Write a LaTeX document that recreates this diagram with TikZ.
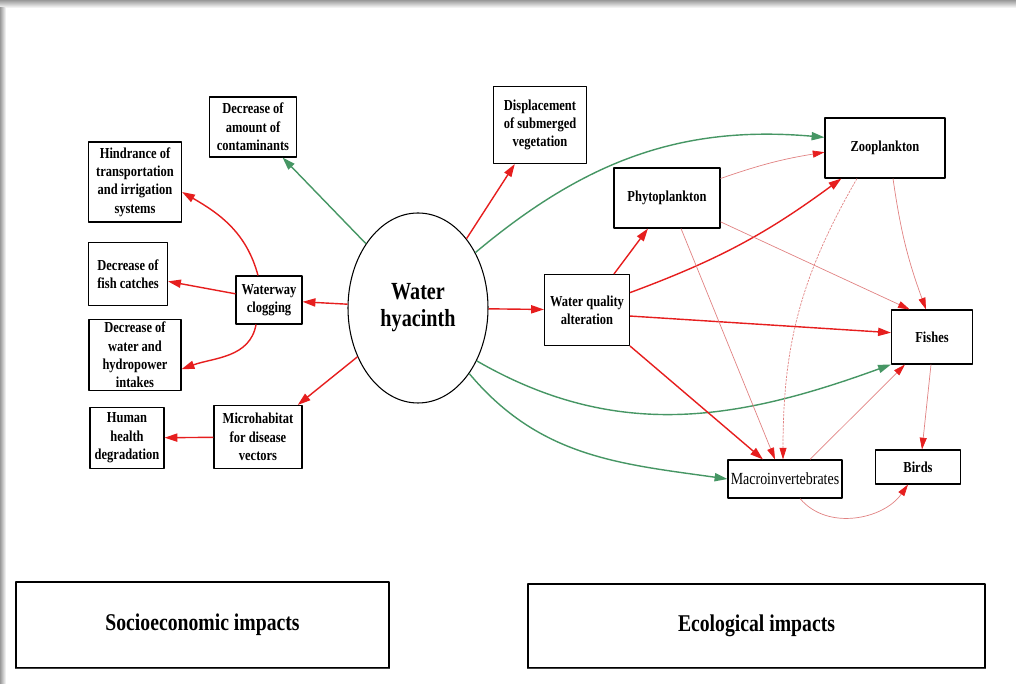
\documentclass[tikz,border=0pt]{standalone}
\usepackage{fontspec}
\setmainfont{Liberation Serif}[FakeStretch=0.82]
\usetikzlibrary{arrows.meta,shapes.geometric}
\definecolor{grn}{RGB}{70,150,100}
\definecolor{rd}{RGB}{230,30,30}
\definecolor{lrd}{RGB}{225,130,130}
\begin{document}
\begin{tikzpicture}[x=0.03cm,y=0.03cm, line join=round,
  font=\bfseries\fontsize{13}{15.7}\selectfont,
  box/.style={draw, line width=0.9pt, align=center, inner sep=2pt},
  sz/.style 2 args={minimum width=#1*0.03cm, minimum height=#2*0.03cm},
  big/.style={box, font=\bfseries\fontsize{20.5}{24}\selectfont},
  grnarr/.style={-{Triangle[length=11pt,width=7pt]}, grn, line width=1.2pt},
  rdarr/.style={-{Triangle[length=11pt,width=7pt]}, rd, line width=1.2pt},
  thin/.style={-{Triangle[length=10pt,width=6pt,color=rd]}, lrd, line width=0.6pt}]
\useasboundingbox (0,0) rectangle (1016,684);
\shade[top color=black!40, bottom color=white] (0,676) rectangle (1016,684);
\shade[left color=black!40, right color=white] (0,0) rectangle (6,676);

\node[box, sz={87}{60}] (contam) at (253,557) {Decrease of\\amount of\\contaminants};
\node[box, sz={93}{80}] (hind) at (135,502) {Hindrance of\\transportation\\and irrigation\\systems};
\node[box, sz={79}{63}] (fishc) at (128,410) {Decrease of\\fish catches};
\node[box, sz={92}{71}] (waterin) at (135,329) {Decrease of\\water and\\hydropower\\intakes};
\node[box, sz={74}{61}] (health) at (127,246) {Human\\health\\degradation};
\node[box, sz={66}{48}] (clog) at (269,384) {Waterway\\clogging};
\node[box, sz={88}{63}] (micro) at (258,247) {Microhabitat\\for disease\\vectors};
\node[draw, ellipse, line width=0.9pt, sz={140}{190}, inner sep=0pt, align=center,
  font=\bfseries\fontsize{21}{23}\selectfont] (hyacinth) at (418,376) {Water\\hyacinth};
\node[box, sz={93}{77}] (displ) at (540,559) {Displacement\\of submerged\\vegetation};
\node[box, sz={106}{60}] (phyto) at (667,486) {Phytoplankton};
\node[box, sz={85}{71}] (wqa) at (587,374) {Water quality\\alteration};
\node[box, sz={120}{60}] (zoo) at (885,536) {Zooplankton};
\node[box, sz={81}{54}] (fishes) at (932,347) {Fishes};
\node[box, sz={114}{38}, inner sep=1pt, font=\fontsize{14.5}{16}\selectfont] (macro) at (785,205) {Macroinvertebrates};
\node[box, sz={85}{34}] (birds) at (918,217) {Birds};
\node[big, sz={373}{86}] (socio) at (202.5,59) {Socioeconomic impacts};
\node[big, sz={457}{84}] (eco) at (756.5,58) {Ecological impacts};
\draw[line width=1.6pt, black!75] (socio.south west) -- (socio.south east);
\draw[line width=1.6pt, black!75] (eco.south west) -- (eco.south east);

\draw[grnarr] (hyacinth.129) -- (contam);
\draw[grnarr] (hyacinth.44) to[out=40,in=175] (zoo.170);
\draw[grnarr] (hyacinth.-42) to[out=-30,in=200] (fishes.south west);
\draw[grnarr] (hyacinth.-52) to[out=-50,in=172] (macro.west);
\draw[rdarr] (hyacinth.55) -- (displ);
\draw[rdarr] (hyacinth) -- (clog);
\draw[rdarr] (hyacinth) -- (micro);
\draw[rdarr] (hyacinth) -- (wqa);
\draw[rdarr] (clog) -- (fishc);
\draw[rdarr] ([xshift=-0.33cm]clog.north) to[out=105,in=-30] (hind.-12);
\draw[rdarr] ([xshift=-0.39cm]clog.south) to[out=-100,in=20] (waterin.-17);
\draw[rdarr] (micro) -- (health);
\draw[rdarr] ([xshift=0.81cm]wqa.north) -- ([xshift=-0.57cm]phyto.south);
\draw[rdarr] (wqa.22) to[bend right=8] (zoo.215);
\draw[rdarr] (wqa.-8) -- (fishes.174);
\draw[rdarr] (wqa.south east) -- ([xshift=-0.66cm]macro.north);
\draw[thin] (phyto.20) to[bend left=5] (zoo.184);
\draw[thin] (phyto.-24) -- (fishes.129);
\draw[thin] ([xshift=0.42cm]phyto.south) -- ([xshift=-0.3cm]macro.north);
\draw[thin] ([xshift=0.24cm]zoo.south) to[bend right=6] ([xshift=-0.18cm]fishes.north);
\draw[thin, dash pattern=on 2pt off 1pt] ([xshift=-0.84cm]zoo.south) to[out=-120,in=90] ([xshift=-0.06cm]macro.north);
\draw[thin] ([xshift=0.75cm]macro.north) -- ([xshift=-0.81cm]fishes.south);
\draw[thin] ([xshift=-0.03cm]fishes.south) -- ([xshift=0.12cm]birds.north);
\draw[thin] ([xshift=0.45cm]macro.south) to[out=-50,in=-125] ([xshift=-0.3cm]birds.south);
\end{tikzpicture}
\end{document}
